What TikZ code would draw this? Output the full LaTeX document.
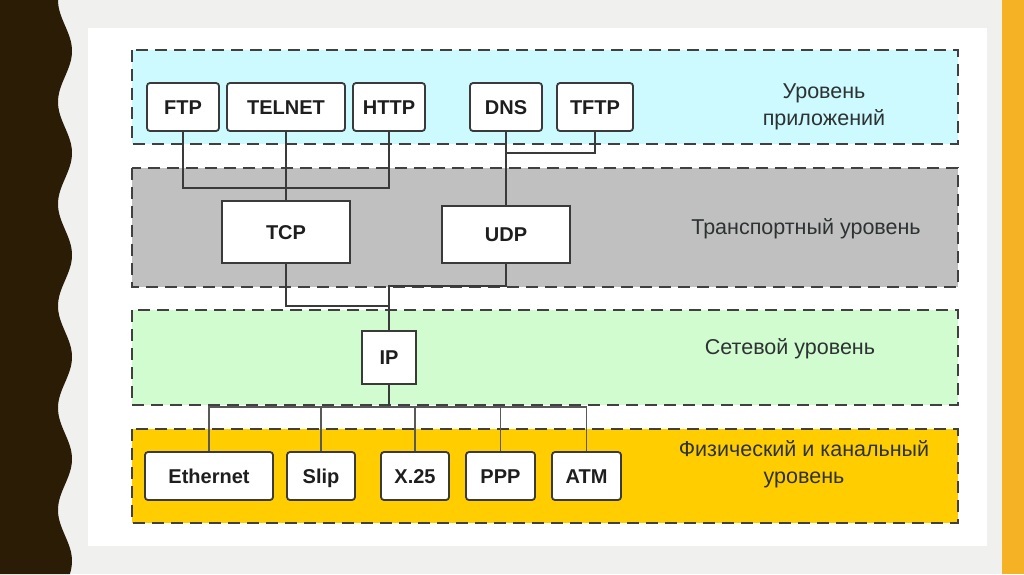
\documentclass[tikz,border=0pt]{standalone}
\usepackage{fontspec}
\setmainfont{Liberation Sans}
\definecolor{bgc}{RGB}{240,240,239}
\definecolor{brownc}{RGB}{43,28,6}
\definecolor{orangec}{RGB}{245,178,37}
\definecolor{appc}{RGB}{204,250,255}
\definecolor{trc}{RGB}{192,192,192}
\definecolor{netc}{RGB}{208,252,208}
\definecolor{phc}{RGB}{255,205,0}
\definecolor{dashc}{RGB}{64,64,64}
\definecolor{boxc}{RGB}{58,58,58}
\definecolor{txtc}{RGB}{30,30,30}
\definecolor{labc}{RGB}{45,50,50}
\begin{document}
\begin{tikzpicture}[x=1pt,y=-1pt,
  band/.style={draw=dashc,line width=2.2pt,dash pattern=on 12pt off 7pt},
  proto/.style={draw=boxc,fill=white,line width=1.8pt,rounded corners=3pt,
    font=\fontsize{20}{24}\selectfont\bfseries,text=txtc,inner sep=0pt,
    text height=14.4pt,text depth=0pt,minimum height=48pt},
  bigproto/.style={proto,rounded corners=0pt},
  lab/.style={font=\fontsize{21.5}{27.5}\selectfont,text=labc,align=center},
  conn/.style={draw=boxc,line width=1.8pt},
  lconn/.style={draw=black!65,line width=1.8pt}]
\fill[bgc] (0,0) rectangle (1024,574);
\useasboundingbox (0,0) rectangle (1024,574);
\fill[white] (88,28) rectangle (987,546);
\fill[orangec] (1002,0) rectangle (1024,574);
\fill[brownc] (0,0) -- plot[domain=0:574,samples=240] ({65-7*cos(\x/102*360)},{\x}) -- (0,574) -- cycle;
% bands
\path[band,fill=appc] (132,50) rectangle (958,144);
\path[band,fill=trc] (132,168) rectangle (958,287);
\path[band,fill=netc] (132,310) rectangle (958,405);
\path[band,fill=phc] (132,429) rectangle (958,523);
% labels
\node[lab] (lapp) at (824,107) {Уровень\\приложений};
\node[lab] (ltr) at (806,229) {Транспортный уровень};
\node[lab] (lnet) at (790,349) {Сетевой уровень};
\node[lab] (lph) at (804,464) {Физический и канальный\\уровень};
% application protocols
\node[proto,minimum width=72pt] (ftp) at (183,107) {FTP};
\node[proto,minimum width=118pt] (telnet) at (286,107) {TELNET};
\node[proto,minimum width=72pt] (http) at (389,107) {HTTP};
\node[proto,minimum width=72pt] (dns) at (506,107) {DNS};
\node[proto,minimum width=76pt] (tftp) at (595,107) {TFTP};
% transport
\node[bigproto,minimum width=128pt,minimum height=62pt] (tcp) at (286,232) {TCP};
\node[bigproto,minimum width=128pt,minimum height=57pt] (udp) at (506,234.5) {UDP};
% network
\node[bigproto,minimum width=54pt,minimum height=53pt] (ip) at (389,357.5) {IP};
% physical
\node[proto,minimum width=128pt] (eth) at (209,476) {Ethernet};
\node[proto,minimum width=68pt] (slip) at (321,476) {Slip};
\node[proto,minimum width=68pt] (x25) at (415,476) {X.25};
\node[proto,minimum width=69pt] (ppp) at (500.5,476) {PPP};
\node[proto,minimum width=69pt] (atm) at (586.5,476) {ATM};
% junctions
\coordinate (appj) at (0,188);
\coordinate (udpj) at (0,153);
\coordinate (tj) at (0,286);
\coordinate (tj2) at (0,306);
\coordinate (lj) at (0,407);
% connectors
\draw[conn] (ftp.south) -- (ftp.south |- appj) -- (http.south |- appj) -- (http.south);
\draw[conn] (telnet.south) -- (tcp.north);
\draw[conn] (dns.south) -- (dns.south |- udpj) -- (tftp.south |- udpj) -- (tftp.south);
\draw[conn] (dns.south) -- (udp.north);
\draw[conn] (udp.south) -- (udp.south |- tj) -- (ip.north |- tj) -- (ip.north);
\draw[conn] (tcp.south) -- (tcp.south |- tj2) -- (ip.north |- tj2);
\draw[conn] (ip.south) -- (ip.south |- lj);
\draw[lconn] (eth.north) -- (eth.north |- lj) -- (atm.north |- lj) -- (atm.north);
\draw[lconn] (slip.north) -- (slip.north |- lj);
\draw[lconn] (x25.north) -- (x25.north |- lj);
\draw[lconn] (ppp.north) -- (ppp.north |- lj);
\end{tikzpicture}
\end{document}
